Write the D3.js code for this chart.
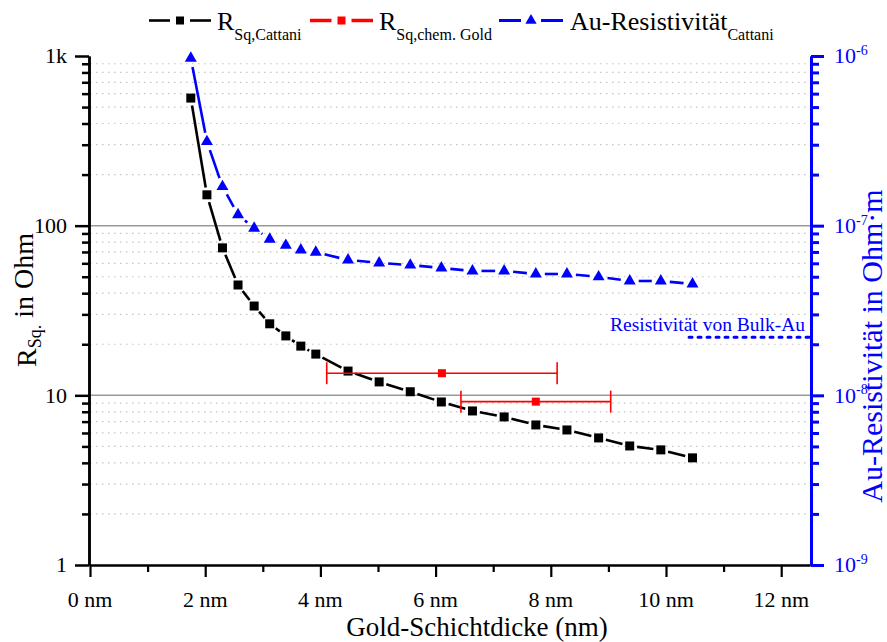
<!DOCTYPE html>
<html>
<head>
<meta charset="utf-8">
<script src="https://cdn.jsdelivr.net/npm/d3@7"></script>
<style>
  html, body { margin: 0; padding: 0; background: #fff; }
  svg { display: block; font-family: "Liberation Serif", "DejaVu Serif", serif; }
</style>
</head>
<body>
<svg id="chart" width="887" height="642"></svg>
<script>
// Gold layer thickness (nm) for the Cattani series
const thickness = [1.75, 2.03, 2.30, 2.57, 2.85, 3.12, 3.40, 3.66, 3.92, 4.48, 5.02,
                   5.56, 6.10, 6.64, 7.19, 7.74, 8.28, 8.83, 9.37, 9.91, 10.46];
// Sheet resistance R_Sq (Ohm), Cattani
const rSqCattani = [565, 152, 74, 44.7, 33.6, 26.4, 22.4, 19.5, 17.5, 13.9, 12.0,
                    10.5, 9.14, 8.09, 7.46, 6.69, 6.25, 5.61, 5.03, 4.77, 4.28];
// Au resistivity (Ohm·m), Cattani
const rhoCattani = [9.7e-7, 3.13e-7, 1.70e-7, 1.16e-7, 9.66e-8, 8.32e-8, 7.66e-8, 7.19e-8,
                    6.97e-8, 6.28e-8, 6.03e-8, 5.86e-8, 5.63e-8, 5.41e-8, 5.41e-8, 5.19e-8,
                    5.19e-8, 4.99e-8, 4.72e-8, 4.72e-8, 4.53e-8];
// Chemically deposited gold: thickness, R_Sq and thickness uncertainty
const chemThickness = [6.11, 7.74];
const chemRSq = [13.5, 9.18];
const chemThicknessErr = [2.0, 1.3];
// Bulk gold resistivity (Ohm·m) and the thickness span of its marker line
const bulkRho = 2.2e-8;
const bulkSpan = [10.4, 12.5];

// Axis ticks
const xMajorTicks = [0, 2, 4, 6, 8, 10, 12];
const xMinorTicks = [1, 3, 5, 7, 9, 11];
const leftMajorTicks = [1, 10, 100, 1000];
const leftMajorLabels = ["1", "10", "100", "1k"];
const rightMajorTicks = [1e-9, 1e-8, 1e-7, 1e-6];
const rightMajorExponents = ["-9", "-8", "-7", "-6"];

const svg = d3.select("#chart");
const plotLeft = 90, plotRight = 810, plotTop = 56, plotBottom = 565;

const x = d3.scaleLinear().domain([0, 12.5]).range([plotLeft, plotRight]);
const yL = d3.scaleLog().domain([1, 1000]).range([plotBottom, plotTop]);
const yR = d3.scaleLog().domain([1e-9, 1e-6]).range([plotBottom, plotTop]);

const minorOf = (decades) => {
  const out = [];
  decades.forEach(d => { for (let k = 2; k <= 9; k++) out.push(d * k); });
  return out;
};
const leftMinor = minorOf([1, 10, 100]);
const rightMinor = minorOf([1e-9, 1e-8, 1e-7]);

// Grid: dotted at minor values, solid gray at inner decades
svg.append("g").selectAll("line").data(leftMinor).join("line")
  .attr("x1", plotLeft).attr("x2", plotRight)
  .attr("y1", d => yL(d)).attr("y2", d => yL(d))
  .attr("stroke", "#c4c4c4").attr("stroke-width", 1.2).attr("stroke-dasharray", "1.5,4.5");
svg.append("g").selectAll("line").data([10, 100]).join("line")
  .attr("x1", plotLeft).attr("x2", plotRight)
  .attr("y1", d => yL(d)).attr("y2", d => yL(d))
  .attr("stroke", "#999").attr("stroke-width", 1.5);

// Axes: ticks and lines from d3 axes, labels as plain serif text
function styleAxis(g, color, width) {
  g.select(".domain").attr("stroke", color).attr("stroke-width", width);
  g.selectAll(".tick line").attr("stroke", color).attr("stroke-width", width);
  g.selectAll(".tick text").remove();
}

// bottom axis
styleAxis(svg.append("g").attr("transform", `translate(0,${plotBottom})`)
  .call(d3.axisBottom(x).tickValues(xMinorTicks).tickSize(7).tickSizeOuter(0)), "#000", 2.2);
styleAxis(svg.append("g").attr("transform", `translate(0,${plotBottom})`)
  .call(d3.axisBottom(x).tickValues(xMajorTicks).tickSize(12).tickSizeOuter(0)), "#000", 2.2);
svg.append("g").selectAll("text").data(xMajorTicks).join("text")
  .attr("x", d => x(d)).attr("y", plotBottom + 42)
  .attr("text-anchor", "middle").attr("font-size", 22)
  .text(d => d + " nm");

// left axis
styleAxis(svg.append("g").attr("transform", `translate(${plotLeft - 1},0)`)
  .call(d3.axisLeft(yL).tickValues(leftMinor).tickSize(7).tickSizeOuter(0)), "#000", 2.5);
styleAxis(svg.append("g").attr("transform", `translate(${plotLeft - 1},0)`)
  .call(d3.axisLeft(yL).tickValues(leftMajorTicks).tickSize(14).tickSizeOuter(0)), "#000", 2.5);
svg.append("g").selectAll("text").data(leftMajorTicks).join("text")
  .attr("x", plotLeft - 23).attr("y", d => yL(d)).attr("dy", "0.33em")
  .attr("text-anchor", "end").attr("font-size", 22)
  .text((d, i) => leftMajorLabels[i]);

// right axis
const blue = "#0000ff";
styleAxis(svg.append("g").attr("transform", `translate(${plotRight + 1},0)`)
  .call(d3.axisRight(yR).tickValues(rightMinor).tickSize(8).tickSizeOuter(0)), blue, 3);
styleAxis(svg.append("g").attr("transform", `translate(${plotRight + 1},0)`)
  .call(d3.axisRight(yR).tickValues(rightMajorTicks).tickSize(13).tickSizeOuter(0)), blue, 3);
const rLabels = svg.append("g").selectAll("text").data(rightMajorTicks).join("text")
  .attr("x", plotRight + 24).attr("y", d => yR(d)).attr("dy", "0.33em")
  .attr("fill", blue).attr("font-size", 22);
rLabels.append("tspan").text("10");
rLabels.append("tspan").attr("dy", "-0.6em").attr("font-size", 14)
  .text((d, i) => rightMajorExponents[i]);

// Axis titles
svg.append("text").attr("x", 477).attr("y", 636)
  .attr("text-anchor", "middle").attr("font-size", 27).text("Gold-Schichtdicke (nm)");

const lt = svg.append("text").attr("transform", "translate(36,300) rotate(-90)")
  .attr("text-anchor", "middle").attr("font-size", 28);
lt.append("tspan").text("R");
lt.append("tspan").attr("font-size", 18).attr("dy", "0.3em").text("Sq.");
lt.append("tspan").attr("dy", "-0.3em").text(" in Ohm");

svg.append("text").attr("transform", "translate(882,346) rotate(-90)")
  .attr("text-anchor", "middle").attr("font-size", 30).attr("fill", blue)
  .text("Au-Resistivität in Ohm·m");

// Line with small gaps around the markers
function gappedLine(g, pts, color, gap, width) {
  for (let i = 0; i < pts.length - 1; i++) {
    const [x1, y1] = pts[i], [x2, y2] = pts[i + 1];
    const len = Math.hypot(x2 - x1, y2 - y1);
    if (len <= 2 * gap) continue;
    const ux = (x2 - x1) / len, uy = (y2 - y1) / len;
    g.append("line")
      .attr("x1", x1 + ux * gap).attr("y1", y1 + uy * gap)
      .attr("x2", x2 - ux * gap).attr("y2", y2 - uy * gap)
      .attr("stroke", color).attr("stroke-width", width);
  }
}

// Resistivity (blue, right axis)
const rhoPts = thickness.map((t, i) => [x(t), yR(rhoCattani[i])]);
const gBlue = svg.append("g");
gappedLine(gBlue, rhoPts, blue, 9, 2.6);
const tri = d3.symbol().type(d3.symbolTriangle).size(62);
gBlue.selectAll("path").data(rhoPts).join("path")
  .attr("d", tri).attr("transform", d => `translate(${d[0]},${d[1]})`).attr("fill", blue);

// R_Sq Cattani (black, left axis)
const rPts = thickness.map((t, i) => [x(t), yL(rSqCattani[i])]);
const gBlack = svg.append("g");
gappedLine(gBlack, rPts, "#000", 7.5, 2.6);
gBlack.selectAll("rect").data(rPts).join("rect")
  .attr("x", d => d[0] - 4.5).attr("y", d => d[1] - 4.5)
  .attr("width", 9).attr("height", 9).attr("fill", "#000");

// Chemically deposited gold (red) with thickness error bars
const red = "#ff0000";
const gRed = svg.append("g");
chemThickness.forEach((t, i) => {
  const cy = yL(chemRSq[i]);
  const xa = x(t - chemThicknessErr[i]), xb = x(t + chemThicknessErr[i]);
  gRed.append("line").attr("x1", xa).attr("x2", xb).attr("y1", cy).attr("y2", cy)
    .attr("stroke", red).attr("stroke-width", 1.6);
  [xa, xb].forEach(xx => gRed.append("line").attr("x1", xx).attr("x2", xx)
    .attr("y1", cy - 11).attr("y2", cy + 11).attr("stroke", red).attr("stroke-width", 1.6));
  gRed.append("rect").attr("x", x(t) - 4).attr("y", cy - 4)
    .attr("width", 8).attr("height", 8).attr("fill", red);
});

// Bulk gold resistivity reference
svg.append("line").attr("x1", x(bulkSpan[0])).attr("x2", x(bulkSpan[1]))
  .attr("y1", yR(bulkRho)).attr("y2", yR(bulkRho))
  .attr("stroke", blue).attr("stroke-width", 3).attr("stroke-dasharray", "3,6")
  .attr("stroke-linecap", "round");
svg.append("text").attr("x", 805).attr("y", yR(bulkRho) - 6)
  .attr("text-anchor", "end").attr("font-size", 19.5).attr("fill", blue)
  .text("Resistivität von Bulk-Au");

// Legend
const legend = [
  { color: "#000", marker: "square", x0: 149, x1: 211, tx: 217, main: "R", sub: "Sq,Cattani", lw: 2.6 },
  { color: red, marker: "square", x0: 310, x1: 373, tx: 379, main: "R", sub: "Sq,chem. Gold", lw: 3.5 },
  { color: blue, marker: "triangle", x0: 499, x1: 563, tx: 570, main: "Au-Resistivität", sub: "Cattani", lw: 3 }
];
const ly = 20.5;
legend.forEach(it => {
  const g = svg.append("g");
  const mid = (it.x0 + it.x1) / 2;
  g.append("line").attr("x1", it.x0).attr("x2", mid - 10).attr("y1", ly).attr("y2", ly)
    .attr("stroke", it.color).attr("stroke-width", it.lw);
  g.append("line").attr("x1", mid + 10).attr("x2", it.x1).attr("y1", ly).attr("y2", ly)
    .attr("stroke", it.color).attr("stroke-width", it.lw);
  if (it.marker === "square") {
    g.append("rect").attr("x", mid - 4).attr("y", ly - 4).attr("width", 8).attr("height", 8)
      .attr("fill", it.color);
  } else {
    g.append("path").attr("d", d3.symbol().type(d3.symbolTriangle).size(55))
      .attr("transform", `translate(${mid},${ly})`).attr("fill", it.color);
  }
  const t = g.append("text").attr("x", it.tx).attr("y", 29.5).attr("font-size", 26);
  t.append("tspan").text(it.main);
  t.append("tspan").attr("font-size", 16).attr("dy", 10.5).text(it.sub);
});
</script>
</body>
</html>
